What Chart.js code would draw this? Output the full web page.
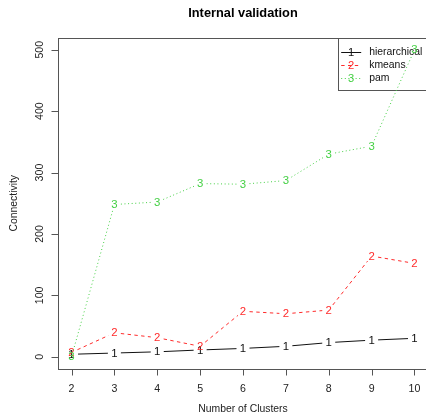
<!DOCTYPE html>
<html>
<head>
<meta charset="utf-8">
<script src="https://cdn.jsdelivr.net/npm/chart.js@4/dist/chart.umd.min.js"></script>
<style>
  html, body { margin: 0; padding: 0; background: #fff; overflow: hidden; }
  #wrap { position: relative; width: 430px; height: 420px; }
</style>
</head>
<body>
<div id="wrap"><canvas id="c" width="430" height="420"></canvas></div>
<script>
// Connectivity by number of clusters for three clustering methods
const clusters = [2, 3, 4, 5, 6, 7, 8, 9, 10];
const hierarchical = [4, 6, 8, 11, 13.5, 17, 23, 27, 30];
const kmeans = [7, 39, 31, 17, 74, 70, 76, 164, 152];
const pam = [0, 248, 252, 282, 281, 287, 330, 343, 500];
const yTicks = [0, 100, 200, 300, 400, 500];
const seriesNames = ['hierarchical', 'kmeans', 'pam'];
const seriesSymbols = ['1', '2', '3'];
const seriesColors = ['#111111', '#ff2b2b', '#45d045'];
const seriesDash = [[], [3.4, 3.4], [1, 2.6]];
const seriesValues = [hierarchical, kmeans, pam];

const FONT = '"Liberation Sans", Arial, sans-serif';
const GAP = 6.5;

const datasets = seriesValues.map((vals, i) => ({
  label: seriesNames[i],
  data: clusters.map((c, k) => ({ x: c, y: vals[k] })),
  borderColor: seriesColors[i],
  showLine: false,
  pointRadius: 0,
  pointHoverRadius: 0
}));

function drawLegend(chart) {
  const { ctx, chartArea: a } = chart;
  const left = a.right - 90.5, top = a.top, bottom = a.top + 51.8;
  ctx.save();
  ctx.strokeStyle = '#555';
  ctx.lineWidth = 1;
  ctx.strokeRect(Math.round(left) + 0.5, Math.round(top) + 0.5, a.right - left + 4, Math.round(bottom - top));
  ctx.font = '10.4px ' + FONT;
  ctx.textBaseline = 'middle';
  seriesNames.forEach((name, i) => {
    const yy = top + 14.5 + i * 13;
    ctx.strokeStyle = seriesColors[i];
    ctx.setLineDash(seriesDash[i]);
    ctx.beginPath();
    ctx.moveTo(left + 3.5, yy + 0.5);
    ctx.lineTo(left + 23.5, yy + 0.5);
    ctx.stroke();
    ctx.setLineDash([]);
    ctx.fillStyle = seriesColors[i];
    ctx.textAlign = 'center';
    ctx.font = '11.2px ' + FONT;
    ctx.fillText(seriesSymbols[i], left + 13.5, yy + 0.5);
    ctx.font = '10.4px ' + FONT;
    ctx.fillStyle = '#111';
    ctx.textAlign = 'left';
    ctx.fillText(name, left + 31.5, yy + 0.5);
  });
  ctx.restore();
}

const rPlot = {
  id: 'rPlot',
  beforeDatasetsDraw(chart) {
    drawLegend(chart);
  },
  afterDraw(chart) {
    const { ctx, chartArea: a, scales: { x, y } } = chart;
    ctx.save();

    // series: lines with gaps around the numbered symbols
    chart.data.datasets.forEach((ds, i) => {
      const pts = chart.getDatasetMeta(i).data;
      ctx.strokeStyle = ds.borderColor;
      ctx.lineWidth = 1;
      ctx.setLineDash(seriesDash[i]);
      for (let k = 0; k < pts.length - 1; k++) {
        const p = pts[k], q = pts[k + 1];
        const dx = q.x - p.x, dy = q.y - p.y, d = Math.hypot(dx, dy);
        if (d <= 2 * GAP) continue;
        const ux = dx / d, uy = dy / d;
        ctx.beginPath();
        ctx.moveTo(p.x + ux * GAP, p.y + uy * GAP);
        ctx.lineTo(q.x - ux * GAP, q.y - uy * GAP);
        ctx.stroke();
      }
      ctx.setLineDash([]);
      ctx.fillStyle = ds.borderColor;
      ctx.font = '11.4px ' + FONT;
      ctx.textAlign = 'center';
      ctx.textBaseline = 'middle';
      pts.forEach(p => ctx.fillText(seriesSymbols[i], p.x, p.y + 0.5));
    });

    // plot box
    ctx.strokeStyle = '#555';
    ctx.lineWidth = 1;
    const L = Math.round(a.left) + 0.5, T = Math.round(a.top) + 0.5;
    const R = Math.round(a.right) + 0.5, B = Math.round(a.bottom) + 0.5;
    ctx.strokeRect(L, T, R - L, B - T);

    // x axis
    ctx.fillStyle = '#222';
    ctx.font = '10.6px ' + FONT;
    ctx.textAlign = 'center';
    ctx.textBaseline = 'middle';
    ctx.beginPath();
    clusters.forEach(c => {
      const px = Math.round(x.getPixelForValue(c)) + 0.5;
      ctx.moveTo(px, B);
      ctx.lineTo(px, B + 6);
    });
    ctx.stroke();
    clusters.forEach(c => ctx.fillText(String(c), x.getPixelForValue(c), B + 20));

    // y axis
    ctx.beginPath();
    yTicks.forEach(v => {
      const py = Math.round(y.getPixelForValue(v)) + 0.5;
      ctx.moveTo(L, py);
      ctx.lineTo(L - 7, py);
    });
    ctx.stroke();
    yTicks.forEach(v => {
      ctx.save();
      ctx.translate(L - 18.5, y.getPixelForValue(v));
      ctx.rotate(-Math.PI / 2);
      ctx.fillText(String(v), 0, 0);
      ctx.restore();
    });

    // axis titles and main title
    const cx = (a.left + a.right) / 2, cy = (a.top + a.bottom) / 2;
    ctx.font = '10.4px ' + FONT;
    ctx.fillText('Number of Clusters', cx, 409);
    ctx.save();
    ctx.translate(14, cy);
    ctx.rotate(-Math.PI / 2);
    ctx.fillText('Connectivity', 0, 0);
    ctx.restore();
    ctx.fillStyle = '#000';
    ctx.font = 'bold 12.8px ' + FONT;
    ctx.fillText('Internal validation', cx, 13.5);

    ctx.restore();
  }
};

new Chart(document.getElementById('c'), {
  type: 'line',
  data: { datasets },
  options: {
    responsive: false,
    animation: false,
    events: [],
    layout: { padding: { top: 37.5, right: 1.8, left: 0, bottom: 0 } },
    plugins: { legend: { display: false }, tooltip: { enabled: false }, title: { display: false } },
    scales: {
      x: {
        type: 'linear', min: 1.68, max: 10.32,
        grid: { display: false }, border: { display: false }, ticks: { display: false },
        afterFit(s) { s.height = 51; }
      },
      y: {
        type: 'linear', min: -20, max: 520,
        grid: { display: false }, border: { display: false }, ticks: { display: false },
        afterFit(s) { s.width = 57.8; }
      }
    }
  },
  plugins: [rPlot]
});
</script>
</body>
</html>
